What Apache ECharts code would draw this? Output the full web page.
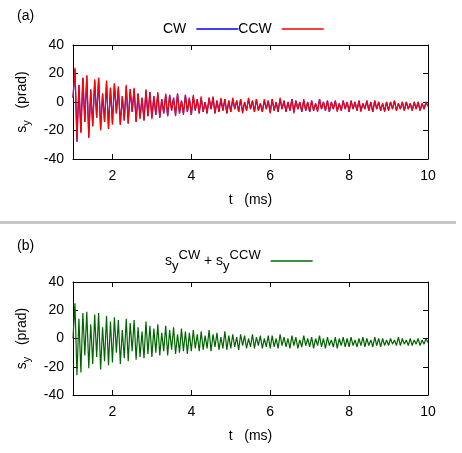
<!DOCTYPE html>
<html>
<head>
<meta charset="utf-8">
<script src="https://cdn.jsdelivr.net/npm/echarts@6/dist/echarts.min.js"></script>
<style>
  html, body { margin: 0; padding: 0; background: #fff; }
  #main { width: 462px; height: 453px; }
</style>
</head>
<body>
<div id="main"></div>
<script>
// sampling of the traces: t = 1.00 ... 10.00 ms, step 0.05 ms
var tStart = 1.0;
var tStep = 0.05;

// s_y (prad), CW beam
var cw = [
  3, 23, -28, 12, -21, 17, -14, 18, -25, 9, -17, 15, -11, 17, -19, 6, -14, 14, -19, 10,
  -15, 13, -8, 10, -16, 4, -13, 11, -15, 9, -7, 9, -14, 6, -11, 3, -13, 8, -10, 7,
  -11, 4, -9, 6, -11, 2, -8, 5, -10, 5, -6, 3, -9, 6, -8, 1, -8, 5, -7, 3,
  -9, 4, -6, 2, -8, 3, -7, 0, -8, 3, -5, 3, -8, 1, -7, 2, -6, 2, -8, 1,
  -7, 2, -5, 1, -7, 2, -7, 0, -6, 2, -5, 1, -7, 2, -6, -1, -7, 1, -5, 1,
  -7, 2, -6, 0, -7, 2, -5, 1, -7, 0, -6, 2, -7, 1, -5, 0, -7, 1, -6, 0,
  -7, 1, -6, -1, -6, 2, -5, 0, -6, 1, -7, 0, -5, 1, -6, -1, -6, 1, -5, 0,
  -7, 1, -5, 0, -6, 1, -6, -1, -5, 1, -6, 0, -7, 1, -5, 0, -6, -1, -6, 0,
  -6, 0, -5, 1, -6, -1, -5, 0, -6, 0, -5, -1, -6, 0, -5, 0, -6, -1, -5, 0,
  -3
];

// s_y (prad), CCW beam
var ccw = [
  3, 24, -27, 12, -22, 17, -14, 19, -25, 8, -17, 16, -11, 17, -20, 6, -14, 15, -19, 10,
  -16, 13, -8, 11, -16, 4, -13, 12, -15, 9, -7, 10, -14, 6, -12, 3, -13, 9, -10, 7,
  -12, 4, -9, 7, -11, 2, -8, 6, -10, 5, -6, 3, -10, 6, -8, 1, -9, 5, -7, 3,
  -9, 5, -6, 2, -8, 4, -7, 0, -8, 3, -5, 4, -8, 1, -7, 3, -6, 2, -8, 1,
  -7, 3, -5, 1, -7, 2, -8, 0, -6, 3, -5, 1, -7, 2, -6, -1, -7, 2, -5, 1,
  -8, 2, -6, 0, -7, 3, -5, 1, -7, 0, -6, 2, -8, 1, -5, 0, -7, 2, -6, 0,
  -7, 1, -6, -1, -7, 2, -5, 0, -6, 1, -7, 0, -5, 1, -7, -1, -6, 1, -5, 0,
  -7, 1, -5, 0, -6, 1, -7, -1, -5, 1, -6, 0, -7, 1, -5, 0, -6, -1, -7, 0,
  -6, 0, -5, 1, -6, -1, -5, 0, -6, 0, -5, -1, -6, 0, -5, 0, -6, -1, -5, 0,
  -3
];

// s_y^CW + s_y^CCW (prad)
var sum = [
  0, 25, -26, 14, -24, 18, -12, 19, -21, 10, -18, 17, -13, 18, -22, 8, -16, 16, -19, 12,
  -17, 15, -10, 13, -18, 6, -14, 14, -16, 11, -9, 13, -15, 8, -13, 5, -14, 12, -11, 9,
  -13, 7, -10, 10, -12, 4, -9, 9, -12, 6, -8, 8, -11, 3, -10, 7, -9, 5, -11, 4,
  -9, 6, -7, 3, -9, 5, -8, 2, -7, 6, -9, 3, -6, 4, -8, 1, -7, 5, -8, 2,
  -7, 3, -6, 1, -8, 3, -5, 2, -7, 0, -6, 3, -7, 1, -5, 2, -7, 0, -6, 2,
  -7, 2, -6, 0, -7, 3, -5, 1, -6, 0, -7, 2, -5, 1, -7, -1, -6, 2, -5, 0,
  -6, 1, -7, 0, -5, 2, -6, 0, -7, 1, -5, -1, -6, 1, -7, 0, -5, 1, -6, 0,
  -6, 1, -5, -1, -6, 0, -5, 1, -6, 0, -5, -1, -6, 1, -5, 0, -6, 0, -5, -1,
  -5, 0, -4, -1, -5, 1, -5, 0, -4, -1, -5, 0, -5, -1, -4, 0, -5, -1, -4, 0,
  -3
];

var xTicks = [2, 4, 6, 8];
var xLabels = [2, 4, 6, 8, 10];

var font = 'Liberation Sans, Arial, Helvetica, sans-serif';

function toPairs(arr) {
  return arr.map(function (v, i) {
    return [+(tStart + i * tStep).toFixed(2), v];
  });
}

function xAxisFor(grid, pos) {
  var bottom = pos == 'bottom';
  return {
    type: 'value', gridIndex: grid, position: pos,
    min: 1, max: 10,
    axisLine: { show: true, onZero: false, lineStyle: { color: '#000', width: 1 } },
    axisTick: { show: true, inside: true, length: 5, customValues: xTicks, lineStyle: { color: '#000' } },
    axisLabel: { show: bottom, customValues: xLabels, color: '#000', fontSize: 14, fontFamily: font, margin: 10 },
    splitLine: { show: false },
    name: bottom ? 't   (ms)' : '',
    nameLocation: 'middle', nameGap: 34,
    nameTextStyle: { color: '#000', fontSize: 14, fontFamily: font }
  };
}

function yAxisFor(grid, pos) {
  var left = pos == 'left';
  return {
    type: 'value', gridIndex: grid, position: pos,
    min: -40, max: 40, interval: 20,
    axisLine: { show: true, onZero: false, lineStyle: { color: '#000', width: 1 } },
    axisTick: { show: true, inside: true, length: 5, lineStyle: { color: '#000' } },
    axisLabel: { show: left, color: '#000', fontSize: 14, fontFamily: font, margin: 9 },
    splitLine: { show: false },
    name: left ? '{n|s}{sub|y}{n|   (prad)}' : '',
    nameLocation: 'middle', nameGap: 40, nameRotate: 90,
    nameTextStyle: {
      color: '#000', fontFamily: font,
      rich: {
        n: { fontSize: 14, fontFamily: font, color: '#000', lineHeight: 22, verticalAlign: 'middle' },
        sub: { fontSize: 11, fontFamily: font, color: '#000', lineHeight: 22, verticalAlign: 'bottom' }
      }
    }
  };
}

var chart = echarts.init(document.getElementById('main'));

var option = {
  animation: false,
  backgroundColor: '#fff',
  title: [
    { text: '(a)', left: 12, top: 4, textStyle: { fontSize: 14, fontWeight: 'normal', color: '#000', fontFamily: font } },
    { text: '(b)', left: 12, top: 234, textStyle: { fontSize: 14, fontWeight: 'normal', color: '#000', fontFamily: font } }
  ],
  legend: [
    {
      data: ['CW', 'CCW'], left: 158, top: 17,
      align: 'right', itemGap: 0, itemWidth: 42, itemHeight: 1.5, icon: 'rect',
      selectedMode: false,
      textStyle: { fontSize: 14, color: '#000', fontFamily: font, padding: [0, 5, 0, 0] }
    },
    {
      data: ['sum'], left: 160, top: 244,
      align: 'right', itemWidth: 42, itemHeight: 1.5, icon: 'rect',
      selectedMode: false,
      formatter: function () {
        return '{n|s}{sub|y}{sup|CW}{n| + s}{sub|y}{sup|CCW}';
      },
      textStyle: {
        color: '#000', fontFamily: font, padding: [0, 5, 0, 0],
        rich: {
          n: { fontSize: 14, fontFamily: font, color: '#000', lineHeight: 24, verticalAlign: 'middle' },
          sub: { fontSize: 13, fontFamily: font, color: '#000', lineHeight: 24, verticalAlign: 'bottom' },
          sup: { fontSize: 13, fontFamily: font, color: '#000', lineHeight: 24, verticalAlign: 'top' }
        }
      }
    }
  ],
  grid: [
    { left: 73, right: 34, top: 45, height: 114 },
    { left: 73, right: 34, top: 282, height: 113 }
  ],
  xAxis: [
    xAxisFor(0, 'bottom'), xAxisFor(0, 'top'),
    xAxisFor(1, 'bottom'), xAxisFor(1, 'top')
  ],
  yAxis: [
    yAxisFor(0, 'left'), yAxisFor(0, 'right'),
    yAxisFor(1, 'left'), yAxisFor(1, 'right')
  ],
  graphic: [
    { type: 'rect', left: 0, top: 221, shape: { width: 456, height: 3 }, style: { fill: '#c6c6c6' } }
  ],
  series: [
    {
      name: 'CW', type: 'line', xAxisIndex: 0, yAxisIndex: 0,
      data: toPairs(cw), showSymbol: false, color: '#0000ff',
      lineStyle: { width: 1.2, color: '#0000ff' }
    },
    {
      name: 'CCW', type: 'line', xAxisIndex: 0, yAxisIndex: 0,
      data: toPairs(ccw), showSymbol: false, color: '#ff0000',
      lineStyle: { width: 1.2, color: '#ff0000' }
    },
    {
      name: 'sum', type: 'line', xAxisIndex: 2, yAxisIndex: 2,
      data: toPairs(sum), showSymbol: false, color: '#006400',
      lineStyle: { width: 1.2, color: '#006400' }
    }
  ]
};

option && chart.setOption(option);
</script>
</body>
</html>
